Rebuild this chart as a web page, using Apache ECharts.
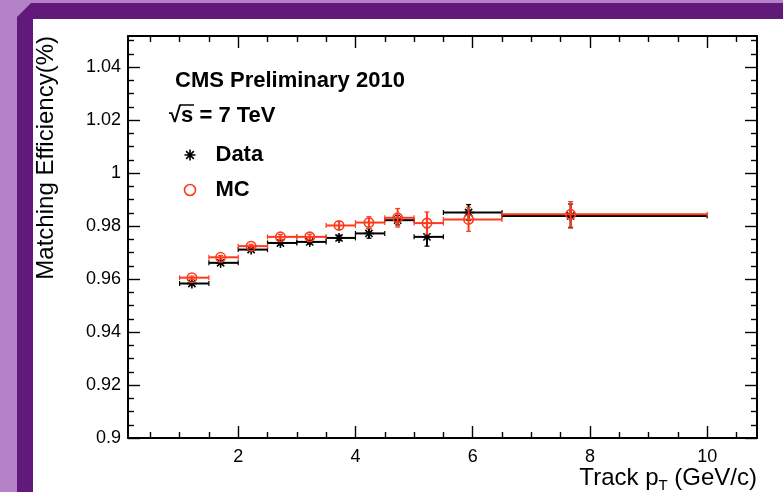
<!DOCTYPE html>
<html>
<head>
<meta charset="utf-8">
<script src="https://cdn.jsdelivr.net/npm/echarts@6/dist/echarts.min.js"></script>
<style>
html,body{margin:0;padding:0;background:#b482c8;}
#chart{width:783px;height:492px;}
</style>
</head>
<body>
<div id="chart"></div>
<script>
// ---- data ----
const binLow  = [1.0, 1.5, 2.0, 2.5, 3.0, 3.5, 4.0, 4.5, 5.0, 5.5, 6.5];
const binHigh = [1.5, 2.0, 2.5, 3.0, 3.5, 4.0, 4.5, 5.0, 5.5, 6.5, 10.0];
const meanPt  = [1.21, 1.70, 2.22, 2.72, 3.22, 3.72, 4.23, 4.72, 5.22, 5.93, 7.67];
const dataEff = [0.9583, 0.9661, 0.9711, 0.9736, 0.9740, 0.9755, 0.9772, 0.9822, 0.9759, 0.9851, 0.9838];
const dataErr = [0.0006, 0.0006, 0.0006, 0.0007, 0.0008, 0.0010, 0.0018, 0.0018, 0.0035, 0.0030, 0.0045];
const mcEff   = [0.9605, 0.9682, 0.9724, 0.9759, 0.9759, 0.9802, 0.9813, 0.9831, 0.9811, 0.9825, 0.9844];
const mcErr   = [0.0006, 0.0007, 0.0007, 0.0009, 0.0010, 0.0015, 0.0022, 0.0035, 0.0042, 0.0045, 0.0048];
const xMajor  = [2, 4, 6, 8, 10];
const xMinor  = [0.5, 1, 1.5, 2.5, 3, 3.5, 4.5, 5, 5.5, 6.5, 7, 7.5, 8.5, 9, 9.5, 10.5];
const yMajor  = [0.9, 0.92, 0.94, 0.96, 0.98, 1.0, 1.02, 1.04];
const yMinor  = [];
for (let k = 0; k <= 30; k++) { const v = +(0.9 + k * 0.005).toFixed(3); if (k % 4 !== 0) yMinor.push(v); }
const X_MIN = 0.12, X_MAX = 10.85, Y_MIN = 0.9, Y_MAX = 1.0517;

const FONT = '"Liberation Sans", Arial, Helvetica, sans-serif';
const RED = '#ff3a1c';

function rows(eff, err) {
  return binLow.map((l, i) => [l, binHigh[i], meanPt[i], eff[i], err[i]]);
}

function makeRender(color, kind) {
  return function (params, api) {
    const xl = api.value(0), xh = api.value(1), xm = api.value(2), y = api.value(3), e = api.value(4);
    const a = api.coord([xl, y]), b = api.coord([xh, y]), m = api.coord([xm, y]);
    const t = api.coord([xm, y + e]), bt = api.coord([xm, y - e]);
    const st = { stroke: color, lineWidth: 2 };
    const thin = { stroke: color, lineWidth: 1.2 };
    const L = (x1, y1, x2, y2, s) => ({ type: 'line', shape: { x1, y1, x2, y2 }, style: s });
    const ch = [];
    ch.push(L(a[0], a[1], b[0], b[1], st));
    ch.push(L(a[0], a[1] - 2.5, a[0], a[1] + 2.5, thin));
    ch.push(L(b[0], b[1] - 2.5, b[0], b[1] + 2.5, thin));
    ch.push(L(t[0], t[1], bt[0], bt[1], st));
    ch.push(L(t[0] - 2.5, t[1], t[0] + 2.5, t[1], thin));
    ch.push(L(bt[0] - 2.5, bt[1], bt[0] + 2.5, bt[1], thin));
    if (kind === 'circle') {
      ch.push({ type: 'circle', shape: { cx: m[0], cy: m[1], r: 4.7 }, style: { fill: 'none', stroke: color, lineWidth: 1.6 } });
    } else {
      const s = 5, d = 3.6;
      const ms = { stroke: color, lineWidth: 1.6 };
      ch.push(L(m[0] - s, m[1], m[0] + s, m[1], ms));
      ch.push(L(m[0], m[1] - s, m[0], m[1] + s, ms));
      ch.push(L(m[0] - d, m[1] - d, m[0] + d, m[1] + d, ms));
      ch.push(L(m[0] - d, m[1] + d, m[0] + d, m[1] - d, ms));
    }
    return { type: 'group', children: ch };
  };
}

const baseX = (pos, ticks, len, showLine, showLabel) => ({
  type: 'value', min: X_MIN, max: X_MAX, position: pos, gridIndex: 0,
  axisLine: { show: showLine, onZero: false, lineStyle: { color: '#000', width: 2 } },
  axisTick: { show: true, inside: true, length: len, customValues: ticks, lineStyle: { color: '#000', width: 1.4 } },
  axisLabel: showLabel ? { show: true, customValues: ticks, fontSize: 18, fontFamily: FONT, color: '#000', margin: 10 } : { show: false },
  splitLine: { show: false }, minorTick: { show: false }
});
const baseY = (pos, ticks, len, showLine, showLabel) => ({
  type: 'value', min: Y_MIN, max: Y_MAX, position: pos, gridIndex: 0,
  axisLine: { show: showLine, onZero: false, lineStyle: { color: '#000', width: 2 } },
  axisTick: { show: true, inside: true, length: len, customValues: ticks, lineStyle: { color: '#000', width: 1.4 } },
  axisLabel: showLabel ? { show: true, customValues: ticks, fontSize: 18, fontFamily: FONT, color: '#000', margin: 7,
    formatter: v => String(parseFloat((+v).toFixed(2))) } : { show: false },
  splitLine: { show: false }, minorTick: { show: false }
});

const xMain = baseX('bottom', xMajor, 12, true, true);
xMain.name = 'Track p{sub|T} (GeV/c)';
xMain.nameLocation = 'end';
xMain.nameGap = 0;
xMain.nameMoveOverlap = false;
xMain.nameTextStyle = { fontSize: 24, fontFamily: FONT, color: '#000', align: 'right', verticalAlign: 'top',
  lineHeight: 30, padding: [25, 0, 0, 0], rich: { sub: { fontSize: 15, fontFamily: FONT, color: '#000', verticalAlign: 'bottom', lineHeight: 15 } } };

const yMain = baseY('left', yMajor, 12, true, true);
yMain.name = 'Matching Efficiency(%)';
yMain.nameLocation = 'end';
yMain.nameRotate = 90;
yMain.nameGap = 0;
yMain.nameMoveOverlap = false;
yMain.nameTextStyle = { fontSize: 24, fontFamily: FONT, color: '#000', align: 'right', verticalAlign: 'bottom', padding: [0, 0, 70, 0] };

const option = {
  animation: false,
  backgroundColor: 'transparent',
  grid: { left: 128, right: 26, top: 36, bottom: 54, containLabel: false, outerBoundsMode: 'none' },
  xAxis: [
    xMain,
    baseX('bottom', xMinor, 6, false, false),
    baseX('top', xMajor, 12, true, false),
    baseX('top', xMinor, 6, false, false)
  ],
  yAxis: [
    yMain,
    baseY('left', yMinor, 6, false, false),
    baseY('right', yMajor, 12, true, false),
    baseY('right', yMinor, 6, false, false)
  ],
  legend: {
    orient: 'vertical', left: 177, top: 139, itemWidth: 11, itemHeight: 11, itemGap: 13,
    selectedMode: false,
    textStyle: { fontSize: 22, fontWeight: 'bold', fontFamily: FONT, color: '#000', padding: [0, 0, 0, 15] },
    data: [
      { name: 'Data', icon: 'path://M5,0L5,10M0,5L10,5M1.5,1.5L8.5,8.5M8.5,1.5L1.5,8.5',
        itemStyle: { color: 'none', borderColor: '#000', borderWidth: 1.6 } },
      { name: 'MC', icon: 'circle', itemStyle: { color: 'rgba(0,0,0,0)', borderColor: RED, borderWidth: 1.6 } }
    ]
  },
  graphic: [
    { type: 'polygon', z: -10, silent: true, shape: { points: [[17, 17], [31, 3], [783, 3], [783, 492], [17, 492]] }, style: { fill: '#621a7a' } },
    { type: 'rect', z: -9, silent: true, shape: { x: 33, y: 19, width: 750, height: 473 }, style: { fill: '#ffffff' } },
    { type: 'text', x: 175, y: 81, style: { text: 'CMS Preliminary 2010', font: 'bold 22px ' + FONT, fill: '#000', verticalAlign: 'middle' } },
    { type: 'text', x: 169, y: 116, style: { text: '\u221As = 7 TeV', font: 'bold 22px ' + FONT, fill: '#000', verticalAlign: 'middle' } },
    { type: 'line', shape: { x1: 180, y1: 105, x2: 194, y2: 105 }, style: { stroke: '#000', lineWidth: 1.5 } }
  ],
  series: [
    { type: 'custom', name: 'Data', xAxisIndex: 0, yAxisIndex: 0, z: 3,
      itemStyle: { color: '#000' }, encode: { x: [0, 1, 2], y: [3] },
      data: rows(dataEff, dataErr), renderItem: makeRender('#000', 'star') },
    { type: 'custom', name: 'MC', xAxisIndex: 0, yAxisIndex: 0, z: 4,
      itemStyle: { color: RED }, encode: { x: [0, 1, 2], y: [3] },
      data: rows(mcEff, mcErr), renderItem: makeRender(RED, 'circle') }
  ]
};

const chart = echarts.init(document.getElementById('chart'), null, { renderer: 'canvas' });
chart.setOption(option);
</script>
</body>
</html>
